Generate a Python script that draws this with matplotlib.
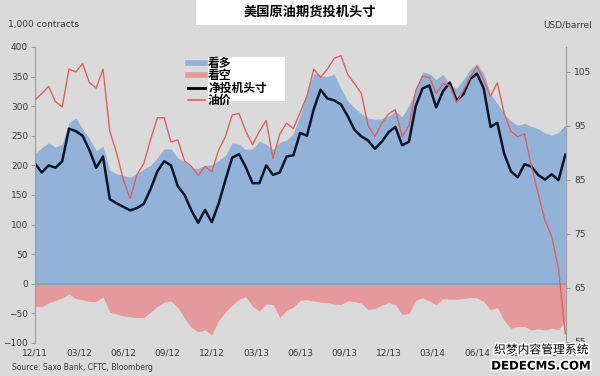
import numpy as np
import matplotlib.pyplot as plt
import matplotlib.patheffects as pe
from matplotlib.patches import Rectangle
from matplotlib.lines import Line2D

plt.rcParams['font.family'] = ['DejaVu Sans', 'Noto Sans CJK SC']
CJK = ['Noto Sans CJK SC', 'DejaVu Sans']

quarters = ['12/11', '03/12', '06/12', '09/12', '12/12', '03/13', '06/13',
            '09/13', '12/13', '03/14', '06/14', '09/14', '12/14']

# speculative longs, 1,000 contracts (two-week samples)
longs = [220, 230, 238, 231, 236, 272, 280, 262, 245, 225,
         232, 192, 186, 183, 180, 186, 194, 200, 213, 228,
         228, 213, 206, 196, 195, 200, 201, 208, 217, 238,
         236, 227, 228, 241, 236, 227, 239, 243, 254, 285,
         322, 356, 352, 350, 354, 330, 309, 297, 287, 280,
         278, 279, 283, 292, 282, 302, 327, 358, 355, 345,
         354, 336, 330, 345, 362, 372, 355, 320, 305, 287,
         275, 268, 271, 266, 262, 255, 251, 256, 268]

# speculative shorts
shorts = [-38, -39, -32, -28, -24, -17, -25, -27, -30, -30,
          -22, -48, -51, -54, -56, -57, -57, -48, -38, -31,
          -29, -40, -58, -74, -81, -78, -86, -62, -48, -36,
          -26, -22, -38, -46, -34, -35, -57, -45, -39, -28,
          -27, -29, -31, -32, -34, -35, -29, -30, -33, -43,
          -42, -36, -32, -35, -52, -50, -28, -24, -29, -35,
          -25, -26, -26, -25, -23, -24, -30, -44, -40, -62,
          -75, -72, -72, -78, -76, -78, -75, -78, -62]

# net speculative position
net = [203, 188, 200, 196, 207, 262, 258, 250, 226, 196,
       215, 143, 136, 130, 124, 128, 135, 160, 190, 207,
       200, 165, 150, 124, 103, 125, 104, 135, 175, 213,
       219, 197, 170, 170, 200, 184, 188, 215, 217, 255,
       250, 295, 328, 313, 310, 303, 283, 260, 249, 242,
       228, 240, 256, 265, 234, 240, 300, 330, 335, 298,
       325, 340, 310, 320, 346, 355, 330, 265, 272, 220,
       190, 180, 202, 198, 184, 176, 185, 175, 218]

# oil price, USD/barrel
oil = [99.8, 101, 102.3, 99.5, 98.5, 105.5, 105, 106.5, 103, 102,
       105.5, 94, 90, 85, 81.5, 86, 88, 92.5, 96.5, 96.5,
       92, 92.4, 88.5, 87.5, 85.8, 87.5, 86.5, 90.5, 93, 97,
       97.3, 94, 91.5, 94, 96, 89, 93.5, 95.5, 94.5, 97.5,
       100.5, 105.5, 104, 105.5, 107.5, 108, 104.5, 102.8, 101, 95,
       93, 95.5, 97.2, 98, 93, 95, 101.5, 104.2, 104, 101,
       102.8, 102.5, 99.3, 101.5, 104, 106, 103.5, 100.5, 103, 97.3,
       94, 93, 93.5, 87.6, 82.5, 77.5, 74.5, 68.5, 56.5]

x = np.arange(len(longs))
bg = '#dadada'
blue = '#93b2d8'
pink = '#e49a9a'
grey = '#9c9c9c'
txt = '#3a3a3a'

fig = plt.figure(figsize=(6, 3.76), dpi=100, facecolor=bg)
ax = fig.add_axes([35/600, 1-343/376, 531/600, 296/376])
ax.set_facecolor(bg)

ax.fill_between(x, 0, longs, color=blue, lw=0)
ax.fill_between(x, 0, shorts, color=pink, lw=0)
ax.axhline(0, color=grey, lw=1.5)
ax.plot(x, net, color='#0b1626', lw=1.8)

ax.set_xlim(0, 78.1)
ax.set_ylim(-100, 400)
ax.set_yticks(np.arange(-100, 401, 50))
ax.set_xticks(np.arange(len(quarters)) * 6.5)
ax.set_xticklabels(quarters)
ax.tick_params(axis='x', length=0, pad=4, labelsize=6.5, colors=txt)
ax.tick_params(axis='y', length=3, width=0.8, color=grey, pad=2,
               labelsize=6.5, labelcolor=txt)
for s in ['top', 'bottom', 'right']:
    ax.spines[s].set_visible(False)
ax.spines['left'].set_color(grey)

ax2 = ax.twinx()
ax2.plot(x, oil, color='#e06060', lw=1.0)
ax2.set_ylim(54.8, 109.6)
ax2.set_yticks([55, 65, 75, 85, 95, 105])
ax2.tick_params(axis='y', length=3, width=0.8, color=grey, pad=3,
                labelsize=6.5, labelcolor=txt)
for s in ['top', 'bottom', 'left']:
    ax2.spines[s].set_visible(False)
ax2.spines['right'].set_color(grey)

handles = [Line2D([], [], color=blue, lw=4),
           Line2D([], [], color=pink, lw=4),
           Line2D([], [], color='black', lw=2),
           Line2D([], [], color='#e06060', lw=1.2)]
labels = ['看多', '看空', '净投机头寸', '油价']
leg = ax2.legend(handles, labels, loc='upper left', frameon=False,
                 bbox_to_anchor=(188/600, 1-57/376), bbox_transform=fig.transFigure,
                 prop={'family': CJK, 'weight': 'bold', 'size': 8.5},
                 handlelength=1.45, handletextpad=0.25, labelspacing=-0.05,
                 borderpad=0, borderaxespad=0)
leg.set_zorder(10)
box = Rectangle((208/600, 1-101/376), 77/600, 44/376, transform=fig.transFigure,
                facecolor='white', edgecolor='none', zorder=9, clip_on=False)
ax2.add_artist(box)

fig.add_artist(Rectangle((196/600, 1-25/376), 211/600, 25/376,
                         transform=fig.transFigure, facecolor='white',
                         edgecolor='none', zorder=1))
fig.text(310/600, 1-12/376, '美国原油期货投机头寸', ha='center', va='center',
         fontsize=9.5, fontweight='bold', family=CJK, color='black', zorder=3)
fig.text(8/600, 1-25/376, '1,000 contracts', ha='left', va='center',
         fontsize=6.5, color=txt)
fig.text(592/600, 1-25/376, 'USD/barrel', ha='right', va='center',
         fontsize=6.5, color=txt)
fig.text(12/600, 1-367/376, 'Source: Saxo Bank, CFTC, Bloomberg', ha='left',
         va='center', fontsize=5.5, color=txt)

# site watermark, as in the reference
outline = [pe.withStroke(linewidth=2.5, foreground='white')]
fig.text(541/600, 1-350/376, '织梦内容管理系统', ha='center', va='center',
         fontsize=8.5, family=CJK, color='black', path_effects=outline)
fig.text(541/600, 1-366/376, 'DEDECMS.COM', ha='center', va='center',
         fontsize=8.5, fontweight='bold', color='black', path_effects=outline)

fig.savefig('out.png', dpi=100, facecolor=bg)
